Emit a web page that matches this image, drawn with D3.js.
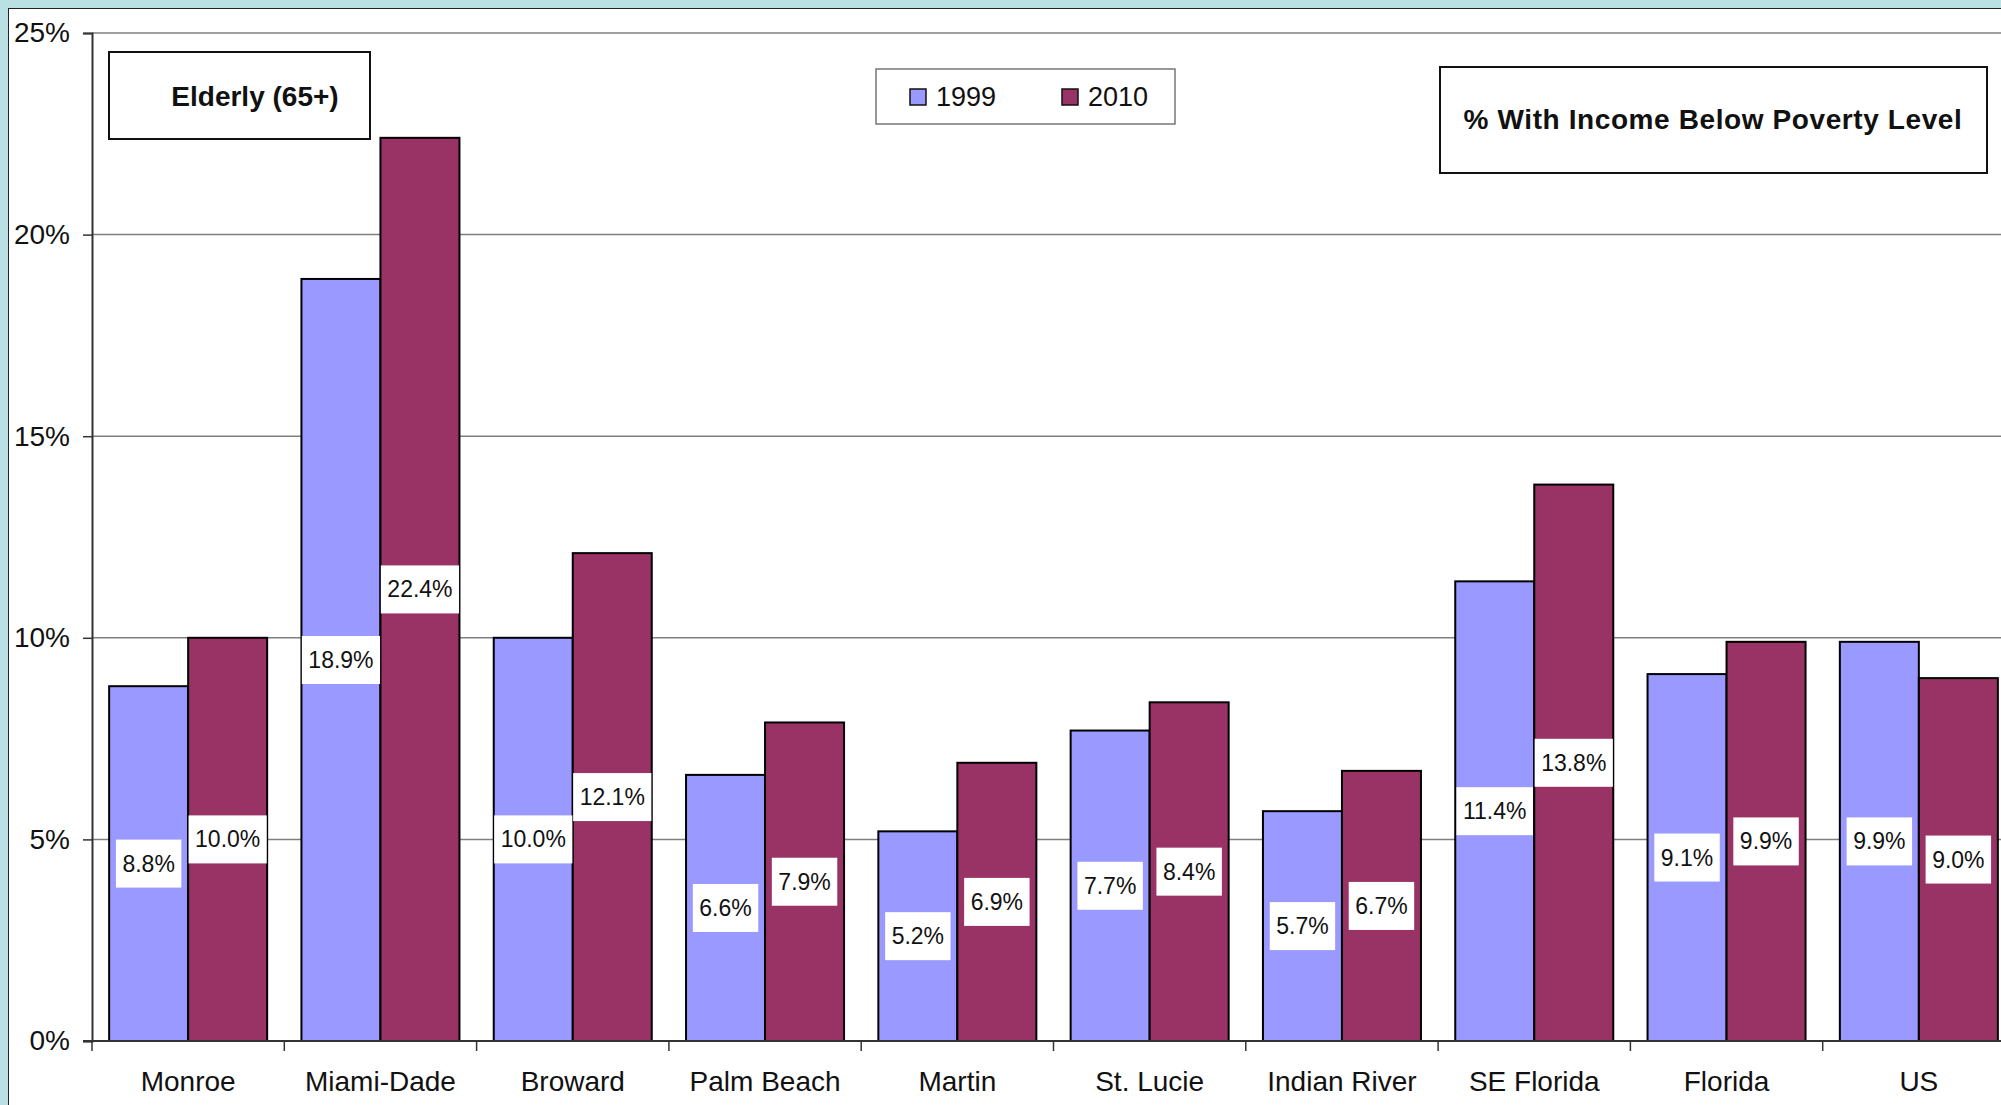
<!DOCTYPE html>
<html>
<head>
<meta charset="utf-8">
<script src="https://cdn.jsdelivr.net/npm/d3@7"></script>
<style>
  body { margin: 0; background: #b9e1e4; }
  svg { display: block; font-family: "Liberation Sans", Arial, sans-serif; }
</style>
</head>
<body>
<svg></svg>
<script>
// data
var counties = ["Monroe","Miami-Dade","Broward","Palm Beach","Martin","St. Lucie","Indian River","SE Florida","Florida","US"];
var years = ["1999","2010"];
var pov1999 = [8.8,18.9,10.0,6.6,5.2,7.7,5.7,11.4,9.1,9.9];
var pov2010 = [10.0,22.4,12.1,7.9,6.9,8.4,6.7,13.8,9.9,9.0];
var yTicks = [0,5,10,15,20,25];
var colors = {"1999":"#9999ff","2010":"#993366"};

var screen = {width:2001,height:1105};
var plot = {left:92, right:2015, top:33, bottom:1041};

var svg = d3.select("svg")
            .attr("width",screen.width)
            .attr("height",screen.height);

// white panel
svg.append("rect")
   .attr("x",8.5).attr("y",8.5)
   .attr("width",screen.width).attr("height",screen.height)
   .attr("fill","white").attr("stroke","#222").attr("stroke-width",1);

var x = d3.scaleBand()
          .domain(counties)
          .range([plot.left,plot.right]);

var x1 = d3.scaleBand()
           .domain(years)
           .range([0,x.bandwidth()])
           .paddingOuter(0.217);

var y = d3.scaleLinear()
          .domain([0,25])
          .range([plot.bottom,plot.top]);

// gridlines
svg.append("g")
   .selectAll("line")
   .data(yTicks.filter(function(d){return d>0}))
   .enter()
   .append("line")
   .attr("x1",plot.left).attr("x2",screen.width)
   .attr("y1",function(d){return y(d)}).attr("y2",function(d){return y(d)})
   .attr("stroke","#7f7f7f").attr("stroke-width",1.5);

// y axis
var yAxis = svg.append("g")
   .attr("transform","translate("+plot.left+",0)")
   .call(d3.axisLeft(y).tickValues(yTicks)
           .tickFormat(function(d){return d+"%"})
           .tickSize(9).tickPadding(13));
yAxis.select(".domain").attr("stroke","#333").attr("stroke-width",2);
yAxis.selectAll(".tick line").attr("stroke","#333").attr("stroke-width",1.5);
yAxis.selectAll("text").attr("font-size",28).attr("fill","#111")
     .attr("font-family","Liberation Sans, Arial, sans-serif");

// rows of data
var rows = counties.map(function(c,i){
  return {name:c, vals:[{year:"1999",v:pov1999[i]},{year:"2010",v:pov2010[i]}]};
});

var groups = svg.append("g")
   .selectAll("g")
   .data(rows)
   .enter()
   .append("g")
   .attr("transform",function(d){return "translate("+x(d.name)+",0)"});

groups.selectAll("rect")
   .data(function(d){return d.vals})
   .enter()
   .append("rect")
   .attr("x",function(d){return x1(d.year)})
   .attr("width",x1.bandwidth())
   .attr("y",function(d){return y(d.v)})
   .attr("height",function(d){return y(0)-y(d.v)})
   .attr("fill",function(d){return colors[d.year]})
   .attr("stroke","#000").attr("stroke-width",2);

// x axis line + category boundary ticks
svg.append("line")
   .attr("x1",plot.left-9).attr("x2",screen.width)
   .attr("y1",plot.bottom).attr("y2",plot.bottom)
   .attr("stroke","#333").attr("stroke-width",2);

var bounds = counties.map(function(c){return x(c)}).concat([plot.right]);
svg.append("g")
   .selectAll("line")
   .data(bounds)
   .enter()
   .append("line")
   .attr("x1",function(d){return d}).attr("x2",function(d){return d})
   .attr("y1",plot.bottom).attr("y2",plot.bottom+10)
   .attr("stroke","#333").attr("stroke-width",1.5);

var xAxis = svg.append("g")
   .attr("transform","translate(0,"+plot.bottom+")")
   .call(d3.axisBottom(x).tickSize(0));
xAxis.select(".domain").remove();
xAxis.selectAll("text")
     .attr("y",40).attr("dy","0.35em")
     .attr("font-size",28).attr("fill","#111")
     .attr("font-family","Liberation Sans, Arial, sans-serif");

// value labels in white boxes at bar centres
var labels = groups.selectAll("g.lab")
   .data(function(d){return d.vals})
   .enter()
   .append("g")
   .attr("class","lab")
   .attr("transform",function(d){
     return "translate("+(x1(d.year)+x1.bandwidth()/2)+","+((y(d.v)+y(0))/2)+")";
   });

labels.append("text")
   .attr("text-anchor","middle")
   .attr("dy","0.35em")
   .attr("font-size",23)
   .attr("fill","#111")
   .text(function(d){return d.v.toFixed(1)+"%"});

labels.each(function(){
  var g = d3.select(this);
  var bb = g.select("text").node().getBBox();
  g.insert("rect","text")
   .attr("x",-bb.width/2-6.5)
   .attr("y",-24)
   .attr("width",bb.width+13)
   .attr("height",48)
   .attr("fill","white");
});

// title box
svg.append("rect")
   .attr("x",109).attr("y",52).attr("width",261).attr("height",87)
   .attr("fill","white").attr("stroke","#111").attr("stroke-width",2);
svg.append("text")
   .attr("x",255).attr("y",96).attr("dy","0.35em")
   .attr("text-anchor","middle")
   .attr("font-size",28).attr("font-weight","bold").attr("fill","#111")
   .text("Elderly (65+)");

// legend
var legend = svg.append("g");
legend.append("rect")
   .attr("x",876).attr("y",69).attr("width",299).attr("height",55)
   .attr("fill","white").attr("stroke","#777").attr("stroke-width",1.5);
var legendX = {"1999":910,"2010":1062};
var li = legend.selectAll("g")
   .data(years)
   .enter()
   .append("g")
   .attr("transform",function(d){return "translate("+legendX[d]+",97)"});
li.append("rect")
   .attr("x",0).attr("y",-8).attr("width",16).attr("height",16)
   .attr("fill",function(d){return colors[d]})
   .attr("stroke","#111").attr("stroke-width",1.5);
li.append("text")
   .attr("x",26).attr("dy","0.35em")
   .attr("font-size",27).attr("fill","#111")
   .text(function(d){return d});

// subtitle box
svg.append("rect")
   .attr("x",1440).attr("y",67).attr("width",547).attr("height",106)
   .attr("fill","white").attr("stroke","#111").attr("stroke-width",2);
svg.append("text")
   .attr("x",1713).attr("y",119).attr("dy","0.35em")
   .attr("text-anchor","middle")
   .attr("font-size",28).attr("font-weight","bold").attr("fill","#111")
   .attr("letter-spacing",0.6)
   .text("% With Income Below Poverty Level");
</script>
</body>
</html>
